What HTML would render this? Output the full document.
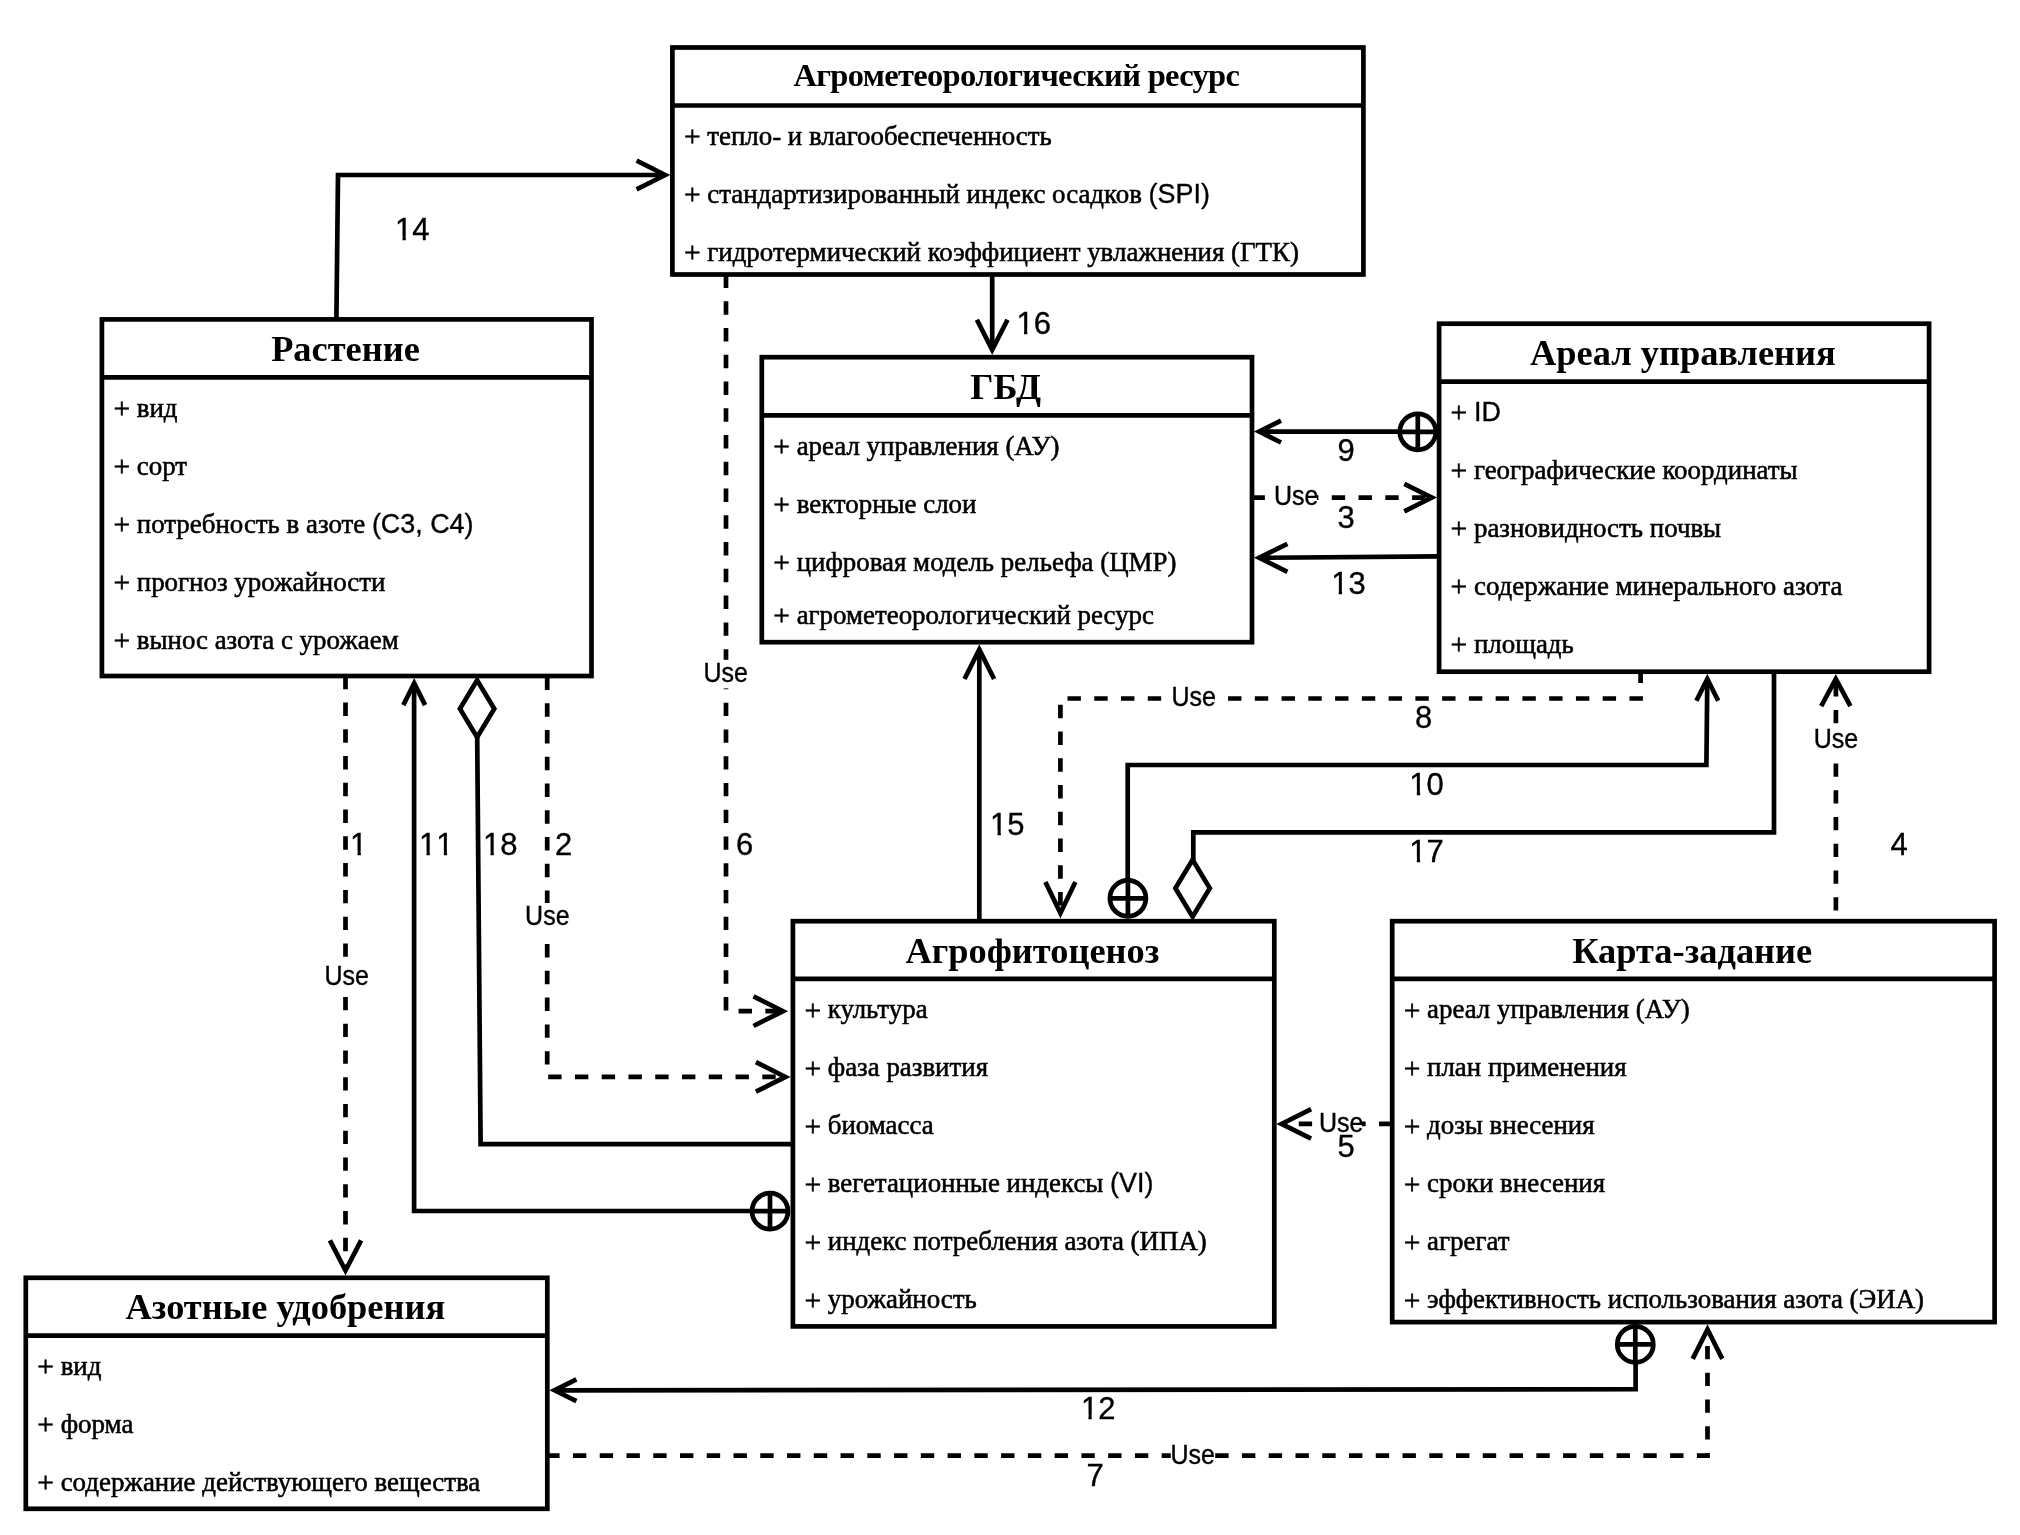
<!DOCTYPE html>
<html lang="ru"><head><meta charset="utf-8"><title>UML diagram</title>
<style>
html,body{margin:0;padding:0;background:#fff;}
body{width:2020px;height:1535px;overflow:hidden;font-family:"Liberation Serif",serif;}
svg{display:block;filter:blur(0.7px);}
.ln{fill:none;stroke:#000;stroke-width:4.7;stroke-linecap:butt;stroke-linejoin:miter;}
.wf{fill:#fff;}
.ds{stroke-dasharray:13.38 13.38;}
.se{font-family:"Liberation Serif", serif;fill:#000;stroke:#000;stroke-width:0.55;}
.sa{font-family:"Liberation Sans", sans-serif;fill:#000;stroke:#000;stroke-width:0.35;font-kerning:none;}
.tt{font-family:"Liberation Serif", serif;font-weight:bold;fill:#000;text-anchor:middle;}
</style></head><body>
<svg width="2020" height="1535" viewBox="0 0 2020 1535">
<rect x="0" y="0" width="2020" height="1535" fill="#fff"/>
<path class="ln" d="M336.4,319.4 L338.0,175 H664"/>
<path class="ln" d="M636.6,160.7 L665.1,175.0 L636.6,189.3"/>
<g transform="translate(395.0,240.3) scale(1,1.03)"><text class="sa" font-size="31.0">14</text><rect x="0.76" y="-3.97" width="6.74" height="5.47" fill="#fff"/><rect x="10.84" y="-3.97" width="6.58" height="5.47" fill="#fff"/></g>
<path class="ln" d="M992.2,274.5 V349"/>
<path class="ln" d="M976.9,319.7 L992.2,349.9 L1007.5,319.7"/>
<g transform="translate(1016.5,333.7) scale(1,1.03)"><text class="sa" font-size="31.0">16</text><rect x="0.76" y="-3.97" width="6.74" height="5.47" fill="#fff"/><rect x="10.84" y="-3.97" width="6.58" height="5.47" fill="#fff"/></g>
<path class="ln ds" d="M726.0,274.5 V1011.2 H782" stroke-dashoffset="0"/>
<path class="ln" d="M753.5,996.4 L783.0,1011.2 L753.5,1026.0"/>
<rect x="703.8" y="659.8" width="42.5" height="28.6" fill="#fff"/><g transform="translate(703.4,681.8) scale(1,1.08)"><text class="sa" font-size="25.0">Use</text></g>
<g transform="translate(736.0,855.0) scale(1,1.03)"><text class="sa" font-size="31.0">6</text></g>
<path class="ln ds" d="M345.5,675.8 V1269" stroke-dashoffset="0"/>
<path class="ln" d="M329.9,1240.3 L345.5,1270.5 L361.1,1240.3"/>
<rect x="324.9" y="963.2" width="42.5" height="28.6" fill="#fff"/><g transform="translate(324.5,985.2) scale(1,1.08)"><text class="sa" font-size="25.0">Use</text></g>
<g transform="translate(350.0,854.8) scale(1,1.03)"><text class="sa" font-size="31.0">1</text><rect x="0.76" y="-3.97" width="6.74" height="5.47" fill="#fff"/><rect x="10.84" y="-3.97" width="6.58" height="5.47" fill="#fff"/></g>
<path class="ln" d="M752,1211 H414.1 V684"/>
<path class="ln" d="M403.3,705.1 L414.2,683.3 L425.1,705.1"/>
<circle class="ln wf" cx="770" cy="1211.2" r="18.0"/><path class="ln" d="M752.0,1211.2 H788.0 M770,1193.2 V1229.2"/>
<g transform="translate(419.0,855.0) scale(1,1.03)"><text class="sa" font-size="31.0">11</text><rect x="0.76" y="-3.97" width="6.74" height="5.47" fill="#fff"/><rect x="10.84" y="-3.97" width="6.58" height="5.47" fill="#fff"/><rect x="18.00" y="-3.97" width="6.74" height="5.47" fill="#fff"/><rect x="28.08" y="-3.97" width="6.58" height="5.47" fill="#fff"/></g>
<path class="ln" d="M477.2,737 L480.6,1144.2 H793.4"/>
<path class="ln wf" d="M477.1,680.2 L494.3,708.7 L477.1,737.2 L459.90000000000003,708.7 Z"/>
<g transform="translate(483.0,855.0) scale(1,1.03)"><text class="sa" font-size="31.0">18</text><rect x="0.76" y="-3.97" width="6.74" height="5.47" fill="#fff"/><rect x="10.84" y="-3.97" width="6.58" height="5.47" fill="#fff"/></g>
<path class="ln ds" d="M547.2,676.5 V1076.9 H784" stroke-dashoffset="0"/>
<path class="ln" d="M755.9,1062.1 L785.4,1076.9 L755.9,1091.7"/>
<rect x="525.5" y="903.0" width="42.5" height="28.6" fill="#fff"/><g transform="translate(525.1,925.0) scale(1,1.08)"><text class="sa" font-size="25.0">Use</text></g>
<g transform="translate(555.0,855.0) scale(1,1.03)"><text class="sa" font-size="31.0">2</text></g>
<path class="ln" d="M979.3,921 V650"/>
<path class="ln" d="M964.5,679.0 L979.3,649.5 L994.1,679.0"/>
<g transform="translate(990.0,834.8) scale(1,1.03)"><text class="sa" font-size="31.0">15</text><rect x="0.76" y="-3.97" width="6.74" height="5.47" fill="#fff"/><rect x="10.84" y="-3.97" width="6.58" height="5.47" fill="#fff"/></g>
<path class="ln ds" d="M1640.6,669.5 V698.5 H1060.4 V912" stroke-dashoffset="0"/>
<path class="ln" d="M1045.4,882.0 L1060.4,913.0 L1075.4,882.0"/>
<rect x="1171.8" y="684.0" width="42.5" height="28.6" fill="#fff"/><g transform="translate(1171.3999999999999,706.0) scale(1,1.08)"><text class="sa" font-size="25.0">Use</text></g>
<g transform="translate(1415.0,727.9) scale(1,1.03)"><text class="sa" font-size="31.0">8</text></g>
<path class="ln" d="M1127.7,881 V765.0 H1706.4 L1707.3,679.5"/>
<path class="ln" d="M1696.4,700.8 L1707.3,679.0 L1718.2,700.8"/>
<circle class="ln wf" cx="1127.9" cy="898.3" r="18.0"/><path class="ln" d="M1109.9,898.3 H1145.9 M1127.9,880.3 V916.3"/>
<g transform="translate(1409.3,794.8) scale(1,1.03)"><text class="sa" font-size="31.0">10</text><rect x="0.76" y="-3.97" width="6.74" height="5.47" fill="#fff"/><rect x="10.84" y="-3.97" width="6.58" height="5.47" fill="#fff"/></g>
<path class="ln" d="M1193.3,860 V832.3 H1774 V671.3"/>
<path class="ln wf" d="M1192.6,859.8 L1209.8,888.3 L1192.6,916.8 L1175.3999999999999,888.3 Z"/>
<g transform="translate(1409.3,861.6) scale(1,1.03)"><text class="sa" font-size="31.0">17</text><rect x="0.76" y="-3.97" width="6.74" height="5.47" fill="#fff"/><rect x="10.84" y="-3.97" width="6.58" height="5.47" fill="#fff"/></g>
<path class="ln" d="M1400,431.6 H1260"/>
<path class="ln" d="M1281.0,420.7 L1259.2,431.6 L1281.0,442.5"/>
<circle class="ln wf" cx="1417.8" cy="431.8" r="18.0"/><path class="ln" d="M1399.8,431.8 H1435.8 M1417.8,413.8 V449.8"/>
<g transform="translate(1337.5,461.0) scale(1,1.03)"><text class="sa" font-size="31.0">9</text></g>
<path class="ln ds" d="M1251.5,497.6 H1431" stroke-dashoffset="0"/>
<path class="ln" d="M1404.3,483.8 L1431.8,497.6 L1404.3,511.4"/>
<rect x="1274.4" y="483.4" width="42.5" height="28.6" fill="#fff"/><g transform="translate(1274.0,505.4) scale(1,1.08)"><text class="sa" font-size="25.0">Use</text></g>
<g transform="translate(1337.5,527.8) scale(1,1.03)"><text class="sa" font-size="31.0">3</text></g>
<path class="ln" d="M1439.1,556.4 L1260,557.8"/>
<path class="ln" d="M1287.4,543.8 L1259.2,557.8 L1287.4,571.8"/>
<g transform="translate(1331.2,594.4) scale(1,1.03)"><text class="sa" font-size="31.0">13</text><rect x="0.76" y="-3.97" width="6.74" height="5.47" fill="#fff"/><rect x="10.84" y="-3.97" width="6.58" height="5.47" fill="#fff"/></g>
<path class="ln ds" d="M1835.9,910.6 V680" stroke-dashoffset="0"/>
<path class="ln" d="M1821.2,706.2 L1835.8,679.0 L1850.4,706.2"/>
<rect x="1814.1" y="726.2" width="42.5" height="28.6" fill="#fff"/><g transform="translate(1813.6999999999998,748.2) scale(1,1.08)"><text class="sa" font-size="25.0">Use</text></g>
<g transform="translate(1890.5,854.8) scale(1,1.03)"><text class="sa" font-size="31.0">4</text></g>
<path class="ln ds" d="M1392.4,1123.9 H1283" stroke-dashoffset="0"/>
<path class="ln" d="M1311.1,1109.1 L1281.6,1123.9 L1311.1,1138.7"/>
<rect x="1319.3" y="1109.8" width="42.5" height="28.6" fill="#fff"/><g transform="translate(1318.8999999999999,1131.8) scale(1,1.08)"><text class="sa" font-size="25.0">Use</text></g>
<g transform="translate(1337.5,1156.7) scale(1,1.03)"><text class="sa" font-size="31.0">5</text></g>
<path class="ln" d="M1635.6,1362 V1389.2 L556,1390.3"/>
<path class="ln" d="M576.4,1379.4 L554.6,1390.3 L576.4,1401.2"/>
<circle class="ln wf" cx="1635.3" cy="1344.4" r="18.0"/><path class="ln" d="M1617.3,1344.4 H1653.3 M1635.3,1326.4 V1362.4"/>
<g transform="translate(1080.9,1418.7) scale(1,1.03)"><text class="sa" font-size="31.0">12</text><rect x="0.76" y="-3.97" width="6.74" height="5.47" fill="#fff"/><rect x="10.84" y="-3.97" width="6.58" height="5.47" fill="#fff"/></g>
<path class="ln ds" d="M546.2,1455.7 H1707.5 V1331" stroke-dashoffset="0"/>
<path class="ln" d="M1692.7,1358.9 L1707.5,1329.4 L1722.3,1358.9"/>
<rect x="1170.8" y="1441.6" width="42.5" height="28.6" fill="#fff"/><g transform="translate(1170.3999999999999,1463.6) scale(1,1.08)"><text class="sa" font-size="25.0">Use</text></g>
<g transform="translate(1086.5,1485.5) scale(1,1.03)"><text class="sa" font-size="31.0">7</text></g>
<rect class="ln wf" x="672.4" y="47.5" width="691.0" height="227.0"/>
<path class="ln" d="M672.4,105.5 H1363.4"/>
<text class="tt" x="1016.7" y="86.3" font-size="32.5" textLength="446.5" lengthAdjust="spacing">Агрометеорологический ресурс</text>
<text class="se" x="685.1" y="144.9" font-size="26.9" xml:space="preserve"><tspan x="683.9" dy="1.3" font-size="29.5">+</tspan><tspan dy="-1.3"> тепло- и влагообеспеченность</tspan></text>
<text class="se" x="685.1" y="202.9" font-size="26.9" xml:space="preserve"><tspan x="683.9" dy="1.3" font-size="29.5">+</tspan><tspan dy="-1.3"> стандартизированный индекс осадков <tspan class="sa">(SPI)</tspan></tspan></text>
<text class="se" x="685.1" y="260.9" font-size="26.9" xml:space="preserve"><tspan x="683.9" dy="1.3" font-size="29.5">+</tspan><tspan dy="-1.3"> гидротермический коэффициент увлажнения (ГТК)</tspan></text>
<rect class="ln wf" x="101.9" y="319.4" width="489.6" height="356.6"/>
<path class="ln" d="M101.9,377.4 H591.5"/>
<text class="tt" x="345.5" y="361.0" font-size="36.4">Растение</text>
<text class="se" x="114.6" y="416.8" font-size="26.9" xml:space="preserve"><tspan x="113.4" dy="1.3" font-size="29.5">+</tspan><tspan dy="-1.3"> вид</tspan></text>
<text class="se" x="114.6" y="474.8" font-size="26.9" xml:space="preserve"><tspan x="113.4" dy="1.3" font-size="29.5">+</tspan><tspan dy="-1.3"> сорт</tspan></text>
<text class="se" x="114.6" y="532.8" font-size="26.9" xml:space="preserve"><tspan x="113.4" dy="1.3" font-size="29.5">+</tspan><tspan dy="-1.3"> потребность в азоте <tspan class="sa">(С3, С4)</tspan></tspan></text>
<text class="se" x="114.6" y="590.8" font-size="26.9" xml:space="preserve"><tspan x="113.4" dy="1.3" font-size="29.5">+</tspan><tspan dy="-1.3"> прогноз урожайности</tspan></text>
<text class="se" x="114.6" y="648.8" font-size="26.9" xml:space="preserve"><tspan x="113.4" dy="1.3" font-size="29.5">+</tspan><tspan dy="-1.3"> вынос азота с урожаем</tspan></text>
<rect class="ln wf" x="761.8" y="357.2" width="490.2" height="285.0"/>
<path class="ln" d="M761.8,415.4 H1252.0"/>
<text class="tt" x="1005.7" y="398.8" font-size="36.4">ГБД</text>
<text class="se" x="774.5" y="454.8" font-size="26.9" xml:space="preserve"><tspan x="773.3" dy="1.3" font-size="29.5">+</tspan><tspan dy="-1.3"> ареал управления (АУ)</tspan></text>
<text class="se" x="774.5" y="512.8" font-size="26.9" xml:space="preserve"><tspan x="773.3" dy="1.3" font-size="29.5">+</tspan><tspan dy="-1.3"> векторные слои</tspan></text>
<text class="se" x="774.5" y="570.8" font-size="26.9" xml:space="preserve"><tspan x="773.3" dy="1.3" font-size="29.5">+</tspan><tspan dy="-1.3"> цифровая модель рельефа (ЦМР)</tspan></text>
<text class="se" x="774.5" y="623.8" font-size="26.9" xml:space="preserve"><tspan x="773.3" dy="1.3" font-size="29.5">+</tspan><tspan dy="-1.3"> агрометеорологический ресурс</tspan></text>
<rect class="ln wf" x="1439.1" y="323.7" width="490.0" height="348.0"/>
<path class="ln" d="M1439.1,381.7 H1929.1"/>
<text class="tt" x="1682.9" y="365.3" font-size="36.4">Ареал управления</text>
<text class="se" x="1451.8" y="421.1" font-size="26.9" xml:space="preserve"><tspan x="1450.6" dy="1.3" font-size="29.5">+</tspan><tspan dy="-1.3"> <tspan class="sa">ID</tspan></tspan></text>
<text class="se" x="1451.8" y="479.1" font-size="26.9" xml:space="preserve"><tspan x="1450.6" dy="1.3" font-size="29.5">+</tspan><tspan dy="-1.3"> географические координаты</tspan></text>
<text class="se" x="1451.8" y="537.1" font-size="26.9" xml:space="preserve"><tspan x="1450.6" dy="1.3" font-size="29.5">+</tspan><tspan dy="-1.3"> разновидность почвы</tspan></text>
<text class="se" x="1451.8" y="595.1" font-size="26.9" xml:space="preserve"><tspan x="1450.6" dy="1.3" font-size="29.5">+</tspan><tspan dy="-1.3"> содержание минерального азота</tspan></text>
<text class="se" x="1451.8" y="653.1" font-size="26.9" xml:space="preserve"><tspan x="1450.6" dy="1.3" font-size="29.5">+</tspan><tspan dy="-1.3"> площадь</tspan></text>
<rect class="ln wf" x="792.9" y="921.2" width="481.4" height="405.2"/>
<path class="ln" d="M792.9,978.9 H1274.3"/>
<text class="tt" x="1032.4" y="962.8000000000001" font-size="36.4">Агрофитоценоз</text>
<text class="se" x="805.6" y="1018.3" font-size="26.9" xml:space="preserve"><tspan x="804.4" dy="1.3" font-size="29.5">+</tspan><tspan dy="-1.3"> культура</tspan></text>
<text class="se" x="805.6" y="1076.3" font-size="26.9" xml:space="preserve"><tspan x="804.4" dy="1.3" font-size="29.5">+</tspan><tspan dy="-1.3"> фаза развития</tspan></text>
<text class="se" x="805.6" y="1134.3" font-size="26.9" xml:space="preserve"><tspan x="804.4" dy="1.3" font-size="29.5">+</tspan><tspan dy="-1.3"> биомасса</tspan></text>
<text class="se" x="805.6" y="1192.3" font-size="26.9" xml:space="preserve"><tspan x="804.4" dy="1.3" font-size="29.5">+</tspan><tspan dy="-1.3"> вегетационные индексы <tspan class="sa">(VI)</tspan></tspan></text>
<text class="se" x="805.6" y="1250.3" font-size="26.9" xml:space="preserve"><tspan x="804.4" dy="1.3" font-size="29.5">+</tspan><tspan dy="-1.3"> индекс потребления азота (ИПА)</tspan></text>
<text class="se" x="805.6" y="1308.3" font-size="26.9" xml:space="preserve"><tspan x="804.4" dy="1.3" font-size="29.5">+</tspan><tspan dy="-1.3"> урожайность</tspan></text>
<rect class="ln wf" x="1392.2" y="921.2" width="602.4" height="400.9"/>
<path class="ln" d="M1392.2,978.8 H1994.6"/>
<text class="tt" x="1692.2" y="962.8000000000001" font-size="36.4">Карта-задание</text>
<text class="se" x="1404.9" y="1018.2" font-size="26.9" xml:space="preserve"><tspan x="1403.7" dy="1.3" font-size="29.5">+</tspan><tspan dy="-1.3"> ареал управления (АУ)</tspan></text>
<text class="se" x="1404.9" y="1076.2" font-size="26.9" xml:space="preserve"><tspan x="1403.7" dy="1.3" font-size="29.5">+</tspan><tspan dy="-1.3"> план применения</tspan></text>
<text class="se" x="1404.9" y="1134.2" font-size="26.9" xml:space="preserve"><tspan x="1403.7" dy="1.3" font-size="29.5">+</tspan><tspan dy="-1.3"> дозы внесения</tspan></text>
<text class="se" x="1404.9" y="1192.2" font-size="26.9" xml:space="preserve"><tspan x="1403.7" dy="1.3" font-size="29.5">+</tspan><tspan dy="-1.3"> сроки внесения</tspan></text>
<text class="se" x="1404.9" y="1250.2" font-size="26.9" xml:space="preserve"><tspan x="1403.7" dy="1.3" font-size="29.5">+</tspan><tspan dy="-1.3"> агрегат</tspan></text>
<text class="se" x="1404.9" y="1308.2" font-size="26.9" xml:space="preserve"><tspan x="1403.7" dy="1.3" font-size="29.5">+</tspan><tspan dy="-1.3"> эффективность использования азота (ЭИА)</tspan></text>
<rect class="ln wf" x="25.8" y="1277.8" width="521.5" height="231.0"/>
<path class="ln" d="M25.8,1335.6 H547.3"/>
<text class="tt" x="285.3" y="1319.3999999999999" font-size="36.4">Азотные удобрения</text>
<text class="se" x="38.5" y="1375.0" font-size="26.9" xml:space="preserve"><tspan x="37.3" dy="1.3" font-size="29.5">+</tspan><tspan dy="-1.3"> вид</tspan></text>
<text class="se" x="38.5" y="1433.0" font-size="26.9" xml:space="preserve"><tspan x="37.3" dy="1.3" font-size="29.5">+</tspan><tspan dy="-1.3"> форма</tspan></text>
<text class="se" x="38.5" y="1491.0" font-size="26.9" xml:space="preserve"><tspan x="37.3" dy="1.3" font-size="29.5">+</tspan><tspan dy="-1.3"> содержание действующего вещества</tspan></text>
</svg></body></html>
